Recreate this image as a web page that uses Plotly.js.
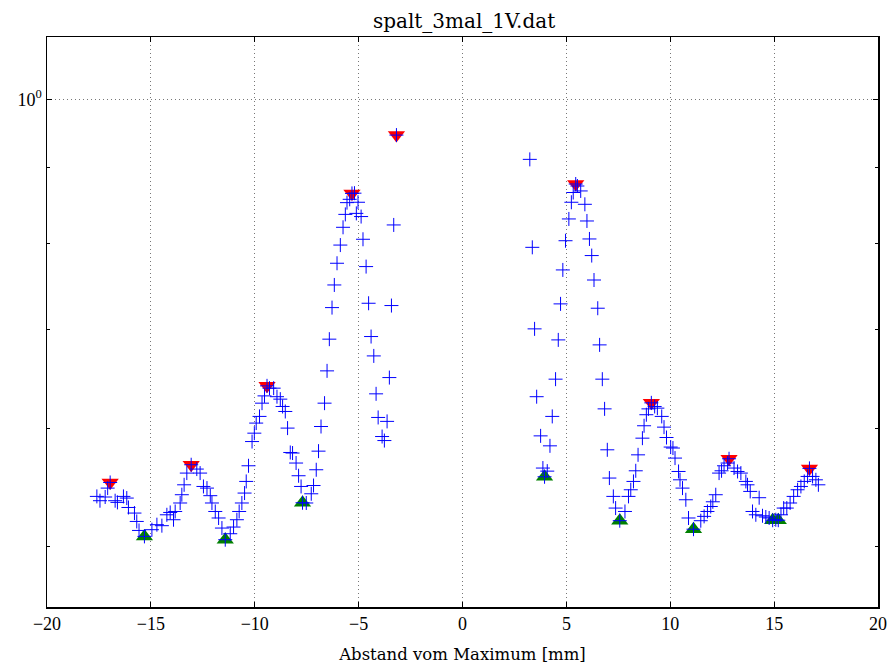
<!DOCTYPE html>
<html>
<head>
<meta charset="utf-8">
<script src="https://cdn.plot.ly/plotly-3.0.1.min.js"></script>
<style>html,body{margin:0;padding:0;background:#fff;}#chart{width:889px;height:666px;}</style>
</head>
<body>
<div id="chart"></div>
<script>
// measured data (Abstand vom Maximum [mm], intensity)
const leftX = [-17.60,-17.45,-17.20,-17.08,-16.96,-16.72,-16.61,-16.32,-16.16,-16.08,
  -15.79,-15.68,-15.57,-15.31,-14.95,-14.71,-14.47,-14.23,-14.07,-13.91,
  -13.83,-13.59,-13.51,-13.40,-13.27,-13.06,-12.79,-12.63,-12.47,-12.30,
  -12.14,-12.06,-11.90,-11.74,-11.58,-11.42,-11.18,-11.02,-10.86,-10.75,
  -10.62,-10.49,-10.41,-10.30,-10.13,-10.02,-9.93,-9.77,-9.65,-9.53,
  -9.41,-9.29,-9.09,-8.93,-8.77,-8.66,-8.53,-8.42,-8.29,-8.18,
  -8.01,-7.89,-7.77,-7.70,-7.52,-7.28,-7.17,-7.04,-6.93,-6.81,
  -6.64,-6.52,-6.41,-6.28,-6.17,-6.04,-5.88,-5.75,-5.64,-5.56,
  -5.43,-5.32,-5.20,-5.11,-5.03,-4.88,-4.79,-4.64,-4.52,-4.40,
  -4.27,-4.16,-4.06,-3.87,-3.76,-3.63,-3.52,-3.42,-3.31,-3.18];
const leftY = [0.5402,0.5366,0.5397,0.5472,0.5520,0.5366,0.5352,0.5402,0.5388,0.5310,
  0.5264,0.5196,0.5124,0.5077,0.5130,0.5170,0.5162,0.5250,0.5269,0.5210,
  0.5277,0.5347,0.5416,0.5500,0.5601,0.5674,0.5636,0.5601,0.5486,0.5472,
  0.5408,0.5347,0.5277,0.5224,0.5143,0.5051,0.5098,0.5151,0.5210,0.5277,
  0.5347,0.5430,0.5529,0.5665,0.5882,0.5959,0.6053,0.6116,0.6243,0.6314,
  0.6413,0.6390,0.6390,0.6306,0.6282,0.6211,0.6163,0.6006,0.5783,0.5778,
  0.5689,0.5578,0.5486,0.5349,0.5347,0.5424,0.5494,0.5630,0.5795,0.6021,
  0.6243,0.6564,0.6895,0.7241,0.7500,0.7757,0.7979,0.8202,0.8368,0.8522,
  0.8566,0.8645,0.8648,0.8381,0.8527,0.8340,0.8051,0.7717,0.7290,0.6923,
  0.6718,0.6334,0.6106,0.5928,0.5891,0.6069,0.6496,0.7264,0.8232,0.9464];
const rightX = [3.24,3.36,3.47,3.57,3.76,3.87,3.95,4.08,4.21,4.32,
  4.48,4.61,4.72,4.83,4.96,5.12,5.24,5.33,5.45,5.53,
  5.69,5.89,5.99,6.11,6.22,6.33,6.51,6.60,6.73,6.84,
  6.97,7.07,7.26,7.37,7.57,7.82,7.99,8.10,8.23,8.34,
  8.45,8.66,8.74,8.85,8.95,9.09,9.25,9.38,9.59,9.70,
  9.82,10.02,10.13,10.23,10.40,10.47,10.59,10.75,10.88,11.12,
  11.47,11.63,11.79,11.95,12.05,12.19,12.35,12.47,12.59,12.76,
  12.83,13.07,13.24,13.40,13.64,13.72,13.85,13.96,14.12,14.28,
  14.44,14.60,14.76,14.93,15.08,15.20,15.33,15.46,15.61,15.77,
  15.94,16.13,16.29,16.45,16.61,16.70,16.85,17.01,17.13];
const rightY = [0.9114,0.7951,0.7006,0.6306,0.5934,0.5645,0.5569,0.5618,0.5843,0.6116,
  0.6480,0.6887,0.7283,0.7677,0.8033,0.8309,0.8527,0.8657,0.8772,0.8745,
  0.8678,0.8500,0.8283,0.8055,0.7850,0.7558,0.7234,0.6834,0.6480,0.6188,
  0.5807,0.5558,0.5402,0.5305,0.5202,0.5277,0.5402,0.5458,0.5529,0.5621,
  0.5762,0.5913,0.6028,0.6132,0.6188,0.6246,0.6211,0.6195,0.6116,0.6015,
  0.5919,0.5832,0.5823,0.5733,0.5615,0.5543,0.5472,0.5374,0.5224,0.5134,
  0.5202,0.5237,0.5277,0.5318,0.5357,0.5416,0.5601,0.5621,0.5665,0.5689,
  0.5727,0.5645,0.5615,0.5601,0.5529,0.5500,0.5444,0.5277,0.5250,0.5391,
  0.5242,0.5232,0.5224,0.5206,0.5210,0.5206,0.5250,0.5305,0.5305,0.5347,
  0.5402,0.5458,0.5486,0.5529,0.5572,0.5642,0.5572,0.5543,0.5500];
const maxX = [-16.96,-13.06,-9.41,-5.32,-3.18,5.45,9.09,12.83,16.70];
const maxY = [0.5520,0.5674,0.6413,0.8645,0.9464,0.8772,0.6246,0.5727,0.5642];
const minX = [-15.31,-11.42,-7.70,3.95,7.57,11.12,14.93,15.20];
const minY = [0.5077,0.5051,0.5349,0.5569,0.5202,0.5134,0.5206,0.5206];
const xTicks = [-20,-15,-10,-5,0,5,10,15,20];
const yTicks = [1];
const yTickText = ['10<sup>0</sup>'];
const yMinorTicks = [0.5,0.6,0.7,0.8,0.9];
const titleText = 'spalt_3mal_1V.dat';
const xLabel = 'Abstand vom Maximum [mm]';

const FONT = 'Liberation Serif, DejaVu Serif, serif';
const WIDE = 'DejaVu Serif, Liberation Serif, serif';

const crossMarker = {symbol: 'cross-thin', size: 10, color: '#0000ff', opacity: 1,
                     line: {width: 1, color: '#0000ff'}};

const traces = [
  {x: maxX, y: maxY, type: 'scatter', mode: 'markers',
   marker: {symbol: 'triangle-down', size: 15, color: '#ff0000', line: {width: 0}}},
  {x: minX, y: minY, type: 'scatter', mode: 'markers',
   marker: {symbol: 'triangle-up', size: 15, color: '#008000', line: {width: 0}}},
  {x: leftX, y: leftY, type: 'scatter', mode: 'markers', marker: crossMarker},
  {x: rightX, y: rightY, type: 'scatter', mode: 'markers', marker: crossMarker}
];

const layout = {
  width: 889, height: 666,
  margin: {l: 47, r: 11, t: 37, b: 59},
  paper_bgcolor: '#ffffff', plot_bgcolor: '#ffffff',
  showlegend: false,
  font: {family: FONT, size: 18, color: '#000'},
  title: {text: titleText, x: 0.522, xanchor: 'center', y: 0.968, yanchor: 'middle',
          font: {family: WIDE, size: 20, color: '#000'}},
  xaxis: {
    range: [-20, 20], tickvals: xTicks, ticks: 'inside', ticklen: 5, tickwidth: 1, tickcolor: '#000',
    showline: true, linecolor: '#000', linewidth: 1.5, mirror: 'allticks',
    showgrid: true, gridcolor: '#777', griddash: '1px,3px', gridwidth: 1,
    zeroline: false, tickfont: {family: FONT, size: 18},
    title: {text: xLabel, font: {family: WIDE, size: 16.5}, standoff: 15}
  },
  yaxis: {
    type: 'log', range: [Math.log10(0.455), Math.log10(1.102)],
    tickvals: yTicks, ticktext: yTickText, ticks: 'inside', ticklen: 5, tickwidth: 1, tickcolor: '#000',
    showline: true, linecolor: '#000', linewidth: 1.5, mirror: 'allticks',
    showgrid: true, gridcolor: '#777', griddash: '1px,3px', gridwidth: 1,
    zeroline: false, tickfont: {family: FONT, size: 18},
    minor: {tickvals: yMinorTicks, ticks: 'inside', ticklen: 3, tickcolor: '#000', showgrid: false}
  }
};

Plotly.newPlot('chart', traces, layout, {displayModeBar: false, staticPlot: true});
</script>
</body>
</html>
